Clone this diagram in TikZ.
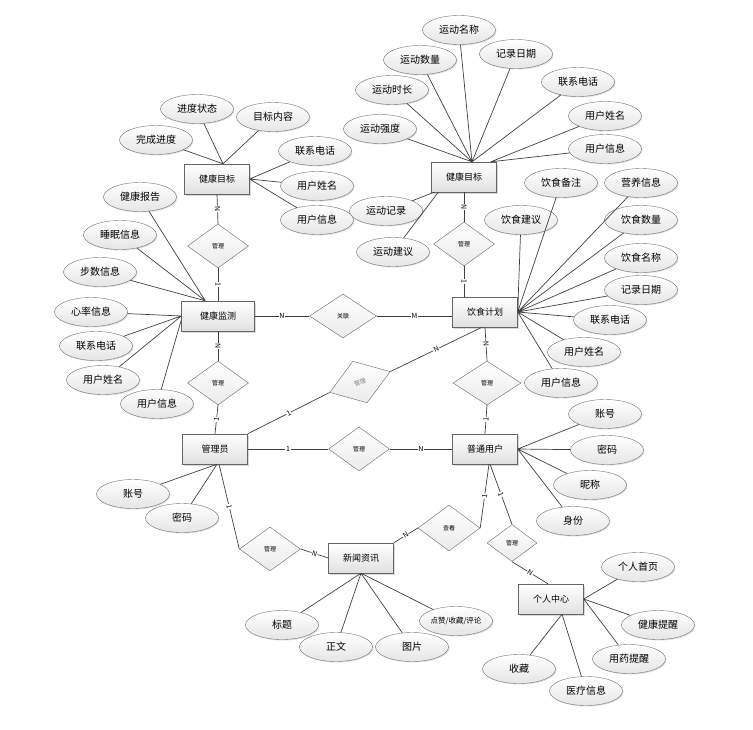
\documentclass[tikz,border=0pt]{standalone}
\usepackage{fontspec}
\setmainfont{Noto Sans CJK SC}
\usetikzlibrary{shapes.geometric,shadows}

\begin{document}
\begin{tikzpicture}[x=1pt,y=-1pt,
  ent/.style={rectangle,draw=black!60,top color=white,bottom color=black!12,minimum width=65pt,minimum height=30pt,inner sep=1pt,font=\fontsize{9}{9}\selectfont,drop shadow={shadow xshift=1.5pt,shadow yshift=-1.5pt,opacity=0.3}},
  attr/.style={ellipse,draw=black!55,top color=white,bottom color=black!10,minimum width=73pt,minimum height=29pt,inner sep=0pt,font=\fontsize{10}{10}\selectfont,drop shadow={shadow xshift=1pt,shadow yshift=-1pt,opacity=0.25}},
  rel/.style={diamond,draw=black!60,top color=white,bottom color=black!8,minimum width=61pt,minimum height=44pt,inner sep=0pt,font=\fontsize{6}{6}\selectfont},
  lnk/.style={draw=black!75,line width=0.7pt},
  card/.style={midway,sloped,fill=white,inner sep=0.6pt,font=\fontsize{7}{7}\selectfont}]
  \useasboundingbox (0,0) rectangle (753,729);

  \node[ent] (jkmb1) at (217,179) {健康目标};
  \node[ent] (jkmb2) at (464,177) {健康目标};
  \node[ent,minimum width=73pt] (jkjc) at (218,316) {健康监测};
  \node[ent] (ysjh) at (485,312) {饮食计划};
  \node[ent] (gly) at (215,449) {管理员};
  \node[ent] (ptyh) at (485,449) {普通用户};
  \node[ent] (xwzx) at (361,558) {新闻资讯};
  \node[ent] (grzx) at (551,599) {个人中心};

  \node[rel] (r1) at (218,246) {管理};
  \node[rel] (r2) at (464,244) {管理};
  \node[rel,minimum width=67pt] (r3) at (343,316) {关联};
  \node[rel] (r4) at (218,383) {管理};
  \node[rel,rotate=19,text=black!50,minimum width=64pt] (r5) at (360,382) {管理};
  \node[rel,minimum width=68pt] (r6) at (487,383) {管理};
  \node[rel] (r7) at (359,449) {管理};
  \node[rel] (r8) at (270,549) {管理};
  \node[rel,minimum width=62pt,minimum height=46pt] (r9) at (449,528) {查看};
  \node[rel,minimum width=50pt,minimum height=37pt] (r10) at (512,543) {管理};

  \node[attr] (a1) at (197,109) {进度状态};
  \node[attr] (a2) at (273,117) {目标内容};
  \node[attr] (a3) at (156,140) {完成进度};
  \node[attr] (a4) at (315,151) {联系电话};
  \node[attr] (a5) at (317,186) {用户姓名};
  \node[attr] (a6) at (317,220) {用户信息};

  \node[attr] (b1) at (459,30) {运动名称};
  \node[attr] (b2) at (420,60) {运动数量};
  \node[attr] (b3) at (516,54) {记录日期};
  \node[attr] (b4) at (392,90) {运动时长};
  \node[attr] (b5) at (578,82) {联系电话};
  \node[attr] (b6) at (380,129) {运动强度};
  \node[attr] (b7) at (605,116) {用户姓名};
  \node[attr] (b8) at (605,149) {用户信息};
  \node[attr] (b9) at (386,211) {运动记录};
  \node[attr] (b10) at (393,252) {运动建议};

  \node[attr] (c1) at (140,197) {健康报告};
  \node[attr] (c2) at (120,235) {睡眠信息};
  \node[attr] (c3) at (100,272) {步数信息};
  \node[attr] (c4) at (91,312) {心率信息};
  \node[attr] (c5) at (96,346) {联系电话};
  \node[attr] (c6) at (103,380) {用户姓名};
  \node[attr] (c7) at (157,404) {用户信息};

  \node[attr] (d1) at (561,183) {饮食备注};
  \node[attr] (d2) at (641,183) {营养信息};
  \node[attr] (d3) at (521,220) {饮食建议};
  \node[attr] (d4) at (641,220) {饮食数量};
  \node[attr] (d5) at (641,258) {饮食名称};
  \node[attr] (d6) at (641,290) {记录日期};
  \node[attr] (d7) at (610,320) {联系电话};
  \node[attr] (d8) at (584,352) {用户姓名};
  \node[attr] (d9) at (561,383) {用户信息};

  \node[attr] (e1) at (605,414) {账号};
  \node[attr] (e2) at (607,450) {密码};
  \node[attr] (e3) at (590,485) {昵称};
  \node[attr] (e4) at (573,521) {身份};

  \node[attr] (f1) at (133,494) {账号};
  \node[attr] (f2) at (182,518) {密码};

  \node[attr] (g1) at (282,625) {标题};
  \node[attr] (g2) at (336,647) {正文};
  \node[attr] (g3) at (412,647) {图片};
  \node[attr,font=\fontsize{7.5}{7.5}\selectfont] (g4) at (456,621) {点赞/收藏/评论};

  \node[attr] (h1) at (638,567) {个人首页};
  \node[attr] (h2) at (658,625) {健康提醒};
  \node[attr] (h3) at (629,659) {用药提醒};
  \node[attr] (h4) at (519,669) {收藏};
  \node[attr] (h5) at (586,691) {医疗信息};

  \draw[lnk] (a1) -- ([xshift=6pt]jkmb1.north) (a2) -- ([xshift=6pt]jkmb1.north) (a3) -- ([xshift=6pt]jkmb1.north);
  \draw[lnk] (a4) -- (jkmb1.east) (a5) -- (jkmb1.east) (a6) -- (jkmb1.east);
  \draw[lnk] (b1) -- ([xshift=8pt]jkmb2.north) (b2) -- ([xshift=8pt]jkmb2.north) (b3) -- ([xshift=8pt]jkmb2.north)
    (b4) -- ([xshift=8pt]jkmb2.north) (b5) -- ([xshift=8pt]jkmb2.north) (b6) -- ([xshift=8pt]jkmb2.north);
  \draw[lnk] (b7) -- ([xshift=-6pt]jkmb2.north east) (b8) -- ([xshift=-6pt]jkmb2.north east);
  \draw[lnk] (b9) -- ([xshift=3pt]jkmb2.south west) (b10) -- ([xshift=7pt]jkmb2.south west);
  \draw[lnk] (c1) -- ([xshift=24pt]jkjc.north west) (c2) -- ([xshift=24pt]jkjc.north west) (c3) -- ([xshift=24pt]jkjc.north west);
  \draw[lnk] (c4) -- (jkjc.west) (c5) -- (jkjc.west) (c6) -- (jkjc.west) (c7) -- ([yshift=-4pt]jkjc.west);
  \draw[lnk] (d1) -- (ysjh.east) (d2) -- (ysjh.east) (d3) -- (ysjh.east) (d4) -- (ysjh.east) (d5) -- (ysjh.east)
    (d6) -- (ysjh.east) (d7) -- (ysjh.east) (d8) -- (ysjh.east) (d9) -- (ysjh.east);
  \draw[lnk] (e1) -- (ptyh.east) (e2) -- (ptyh.east) (e3) -- (ptyh.east) (e4) -- (ptyh.east);
  \draw[lnk] (f1) -- ([xshift=2pt]gly.south) (f2) -- ([xshift=2pt]gly.south);
  \draw[lnk] (g1) -- (xwzx.south) (g2) -- (xwzx.south) (g3) -- (xwzx.south) (g4) -- (xwzx.south);
  \draw[lnk] (h1) -- (grzx.east) (h2) -- (grzx.east) (h3) -- (grzx.east);
  \draw[lnk] (h4) -- ([xshift=11pt]grzx.south) (h5) -- ([xshift=11pt]grzx.south);

  \draw[lnk] (jkmb1.south) -- node[card] {N} (r1.north);
  \draw[lnk] (r1.south) -- node[card] {1} (jkjc.north);
  \draw[lnk] (jkmb2.south) -- node[card] {N} (r2.north);
  \draw[lnk] (r2.south) -- node[card] {1} (r2.south |- ysjh.north);
  \draw[lnk] (jkjc.east) -- node[card] {N} (r3.west);
  \draw[lnk] (r3.east) -- node[card] {M} (ysjh.west |- r3.east);
  \draw[lnk] (jkjc.south) -- node[card] {N} (r4.north);
  \draw[lnk] (r4.south) -- node[card] {1} (gly.north);
  \draw[lnk] (ysjh.south) -- node[card] {N} (r6.north);
  \draw[lnk] (r6.south) -- node[card] {1} (ptyh.north);
  \draw[lnk] (gly.east) -- node[card] {1} (r7.west);
  \draw[lnk] (r7.east) -- node[card] {N} (ptyh.west);
  \draw[lnk] (gly.north east) -- node[card] {1} (r5.west);
  \draw[lnk] (r5.east) -- node[card] {N} ([xshift=-3pt]ysjh.south);
  \draw[lnk] ([xshift=4pt]gly.south) -- node[card] {1} (r8.west);
  \draw[lnk] (r8.east) -- node[card] {N} (xwzx.west);
  \draw[lnk] (xwzx.north east) -- node[card] {N} (r9.west);
  \draw[lnk] (r9.east) -- node[card] {1} ([xshift=4pt]ptyh.south);
  \draw[lnk] ([xshift=5pt]ptyh.south) -- node[card] {1} (r10.north);
  \draw[lnk] (r10.south) -- node[card] {N} ([xshift=-3pt]grzx.north);
\end{tikzpicture}
\end{document}
